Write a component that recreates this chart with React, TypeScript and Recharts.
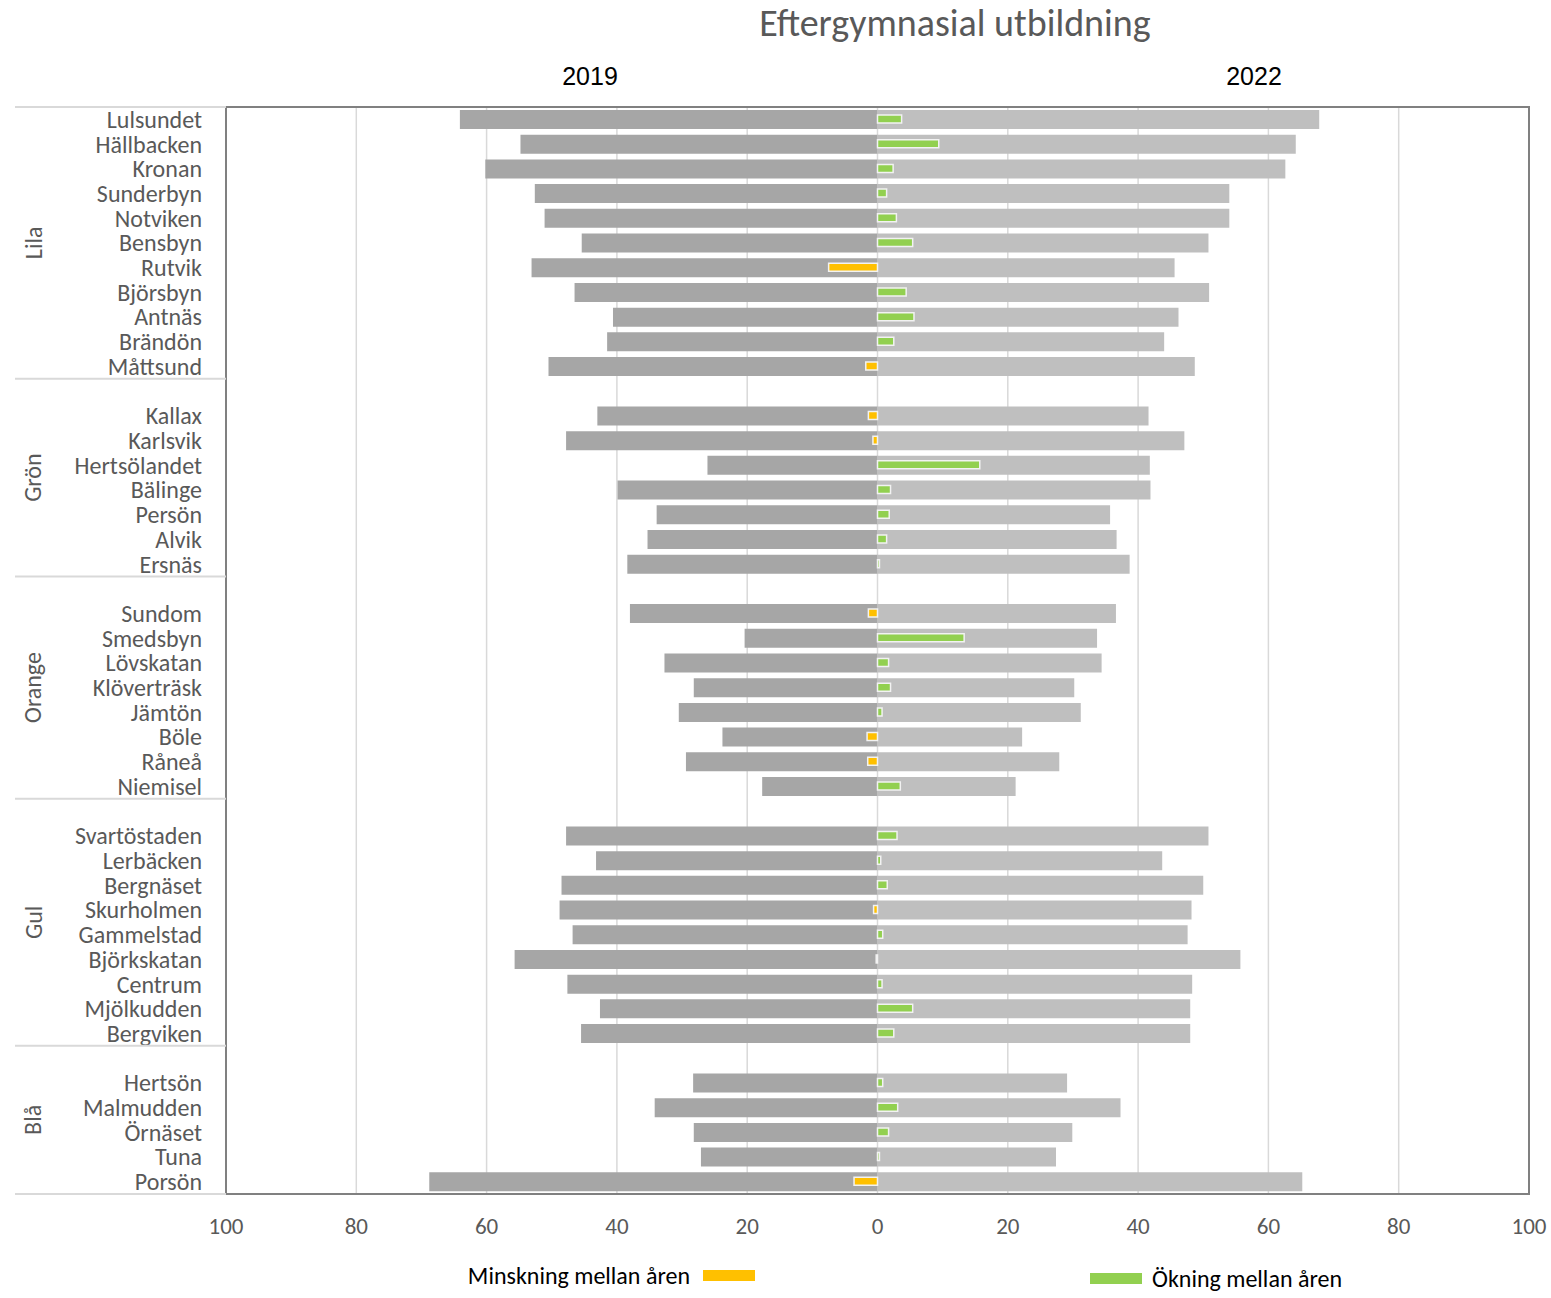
import React from "react";
import {
  BarChart, Bar, XAxis, YAxis, CartesianGrid, Cell, ReferenceArea,
} from "recharts";

const FONT = "Carlito, Calibri, Lato, 'Open Sans', sans-serif";
const TEXT_GREY = "#595959";

// ─── data ───
const groupNames = ["Lila", "Grön", "Orange", "Gul", "Blå"];

const lilaAreas = ["Lulsundet", "Hällbacken", "Kronan", "Sunderbyn", "Notviken", "Bensbyn", "Rutvik", "Björsbyn", "Antnäs", "Brändön", "Måttsund"];
const gronAreas = ["Kallax", "Karlsvik", "Hertsölandet", "Bälinge", "Persön", "Alvik", "Ersnäs"];
const orangeAreas = ["Sundom", "Smedsbyn", "Lövskatan", "Klöverträsk", "Jämtön", "Böle", "Råneå", "Niemisel"];
const gulAreas = ["Svartöstaden", "Lerbäcken", "Bergnäset", "Skurholmen", "Gammelstad", "Björkskatan", "Centrum", "Mjölkudden", "Bergviken"];
const blaAreas = ["Hertsön", "Malmudden", "Örnäset", "Tuna", "Porsön"];

// share (%) 2019, same order as the area lists above
const values2019 = [
  64.1, 54.8, 60.2, 52.6, 51.1, 45.4, 53.1, 46.5, 40.6, 41.5, 50.5,
  43.0, 47.8, 26.1, 39.9, 33.9, 35.3, 38.4,
  38.0, 20.4, 32.7, 28.2, 30.5, 23.8, 29.4, 17.7,
  47.8, 43.2, 48.5, 48.8, 46.8, 55.7, 47.6, 42.6, 45.5,
  28.3, 34.2, 28.2, 27.1, 68.8,
];

// share (%) 2022
const values2022 = [
  67.8, 64.2, 62.6, 54.0, 54.0, 50.8, 45.6, 50.9, 46.2, 44.0, 48.7,
  41.6, 47.1, 41.8, 41.9, 35.7, 36.7, 38.7,
  36.6, 33.7, 34.4, 30.2, 31.2, 22.2, 27.9, 21.2,
  50.8, 43.7, 50.0, 48.2, 47.6, 55.7, 48.3, 48.0, 48.0,
  29.1, 37.3, 29.9, 27.4, 65.2,
];

// change between the years (percentage points)
const changes = [
  3.7, 9.4, 2.4, 1.4, 2.9, 5.4, -7.5, 4.4, 5.6, 2.5, -1.8,
  -1.4, -0.7, 15.7, 2.0, 1.8, 1.4, 0.3,
  -1.4, 13.3, 1.7, 2.0, 0.7, -1.6, -1.5, 3.5,
  3.0, 0.5, 1.5, -0.6, 0.8, -0.2, 0.7, 5.4, 2.5,
  0.8, 3.1, 1.7, 0.3, -3.6,
];

const xTicks = [-100, -80, -60, -40, -20, 0, 20, 40, 60, 80, 100];

// ─── build rows (an empty spacer row opens every group after the first) ───
interface Row {
  name: string;
  v2019: number | null;
  v2022: number | null;
  change: number | null;
  group: number;
  groupStart: boolean;
  groupEnd: boolean;
  groupSize: number;
}

const groupAreas = [lilaAreas, gronAreas, orangeAreas, gulAreas, blaAreas];
const rows: Row[] = [];
let k = 0;
groupAreas.forEach((areas, gi) => {
  const size = areas.length + (gi > 0 ? 1 : 0);
  if (gi > 0) {
    rows.push({ name: "", v2019: null, v2022: null, change: null, group: gi, groupStart: true, groupEnd: false, groupSize: size });
  }
  areas.forEach((name, i) => {
    rows.push({
      name,
      v2019: -values2019[k],
      v2022: values2022[k],
      change: changes[k],
      group: gi,
      groupStart: gi === 0 && i === 0,
      groupEnd: i === areas.length - 1,
      groupSize: size,
    });
    k++;
  });
});

const W = 1551;
const H = 1298;
const MARGIN = { top: 107, right: 22, bottom: 64, left: 15 };
const Y_AXIS_W = 211;
const X_AXIS_H = 40;
const PITCH = (H - MARGIN.top - MARGIN.bottom - X_AXIS_H) / rows.length;
const AXIS_X = MARGIN.left + Y_AXIS_W;
const LABEL_X = AXIS_X - 24;
const GROUP_X = 33;

// ─── category tick with the group labels and separators ───
function CategoryTick(props: any) {
  const { y, payload } = props;
  const row = rows[payload.index];
  if (!row) return null;
  const half = payload.offset || PITCH / 2;
  const groupCenter = y + (row.groupSize - 1) * half;
  return (
    <g>
      <text x={LABEL_X} y={y} textAnchor="end" dominantBaseline="central" fontSize={24} fontFamily={FONT} fill={TEXT_GREY}>
        {row.name}
      </text>
      {row.groupStart && (
        <>
          {row.group === 0 && (
            <line x1={MARGIN.left} x2={AXIS_X} y1={y - half} y2={y - half} stroke="#d9d9d9" strokeWidth={2} />
          )}
          <text
            x={GROUP_X}
            y={groupCenter}
            textAnchor="middle"
            dominantBaseline="central"
            transform={`rotate(-90, ${GROUP_X}, ${groupCenter})`}
            fontSize={24}
            fontFamily={FONT}
            fill={TEXT_GREY}
          >
            {groupNames[row.group]}
          </text>
        </>
      )}
      {row.groupEnd && (
        <line x1={MARGIN.left} x2={AXIS_X} y1={y + half} y2={y + half} stroke="#d9d9d9" strokeWidth={2} />
      )}
    </g>
  );
}

export default function App() {
  return (
    <div style={{ position: "absolute", left: 0, top: 0, width: W, height: H, background: "#fff" }}>
      <BarChart
        width={W}
        height={H}
        data={rows}
        layout="vertical"
        stackOffset="sign"
        margin={MARGIN}
      >
        <CartesianGrid horizontal={false} stroke="#d9d9d9" strokeWidth={1.5} yAxisId="main" />
        <XAxis
          type="number"
          domain={[-100, 100]}
          ticks={xTicks}
          interval={0}
          height={X_AXIS_H}
          axisLine={false}
          tickLine={false}
          tickSize={0}
          tickMargin={24}
          tickFormatter={(v: number) => String(Math.abs(v))}
          tick={{ fontSize: 23, fill: TEXT_GREY, fontFamily: FONT }}
        />
        <YAxis
          yAxisId="main"
          type="category"
          dataKey="name"
          width={Y_AXIS_W}
          interval={0}
          axisLine={false}
          tickLine={false}
          tick={<CategoryTick />}
        />
        <YAxis yAxisId="chg" type="category" dataKey="name" hide />
        <Bar yAxisId="main" dataKey="v2019" stackId="a" fill="#a6a6a6" barSize={19} isAnimationActive={false} />
        <Bar yAxisId="main" dataKey="v2022" stackId="a" fill="#bfbfbf" barSize={19} isAnimationActive={false} />
        <Bar yAxisId="chg" dataKey="change" barSize={8} stroke="#f2f2f2" strokeWidth={1.5} isAnimationActive={false}>
          {rows.map((r, i) => (
            <Cell key={i} fill={(r.change ?? 0) >= 0 ? "#92d050" : "#ffc000"} />
          ))}
        </Bar>
        <ReferenceArea yAxisId="main" x1={-100} x2={100} fill="none" stroke="#808080" strokeWidth={2} ifOverflow="visible" />
      </BarChart>

      {/* title and year headings */}
      <div style={{ position: "absolute", left: 0, width: 1910, top: 0, textAlign: "center", fontFamily: FONT, fontSize: 38, color: TEXT_GREY, fontWeight: 300 }}>
        Eftergymnasial utbildning
      </div>
      <div style={{ position: "absolute", left: 540, width: 100, top: 62, textAlign: "center", fontFamily: "'Liberation Sans', Arial, sans-serif", fontSize: 25, color: "#000" }}>
        2019
      </div>
      <div style={{ position: "absolute", left: 1204, width: 100, top: 62, textAlign: "center", fontFamily: "'Liberation Sans', Arial, sans-serif", fontSize: 25, color: "#000" }}>
        2022
      </div>

      {/* legend */}
      <div style={{ position: "absolute", right: W - 755, top: 1261, display: "flex", alignItems: "center", gap: 13, fontFamily: FONT, fontSize: 24, color: "#000" }}>
        <span>Minskning mellan åren</span>
        <span style={{ display: "inline-block", width: 52, height: 11, background: "#ffc000" }} />
      </div>
      <div style={{ position: "absolute", left: 1090, top: 1264, display: "flex", alignItems: "center", gap: 10, fontFamily: FONT, fontSize: 24, color: "#000" }}>
        <span style={{ display: "inline-block", width: 52, height: 11, background: "#92d050" }} />
        <span>Ökning mellan åren</span>
      </div>
    </div>
  );
}
